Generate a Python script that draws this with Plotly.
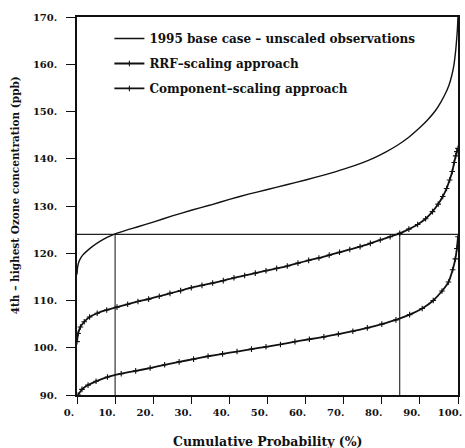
import plotly.graph_objects as go

# Cumulative probability (%) and 4th-highest ozone (ppb) for each case
base_p = [0, 0.15, 0.5, 1, 1.5, 2.5, 4, 6, 8, 10, 13, 16, 20, 25, 30, 35, 40, 45,
          50, 55, 60, 65, 70, 75, 78, 81, 84, 87, 90, 92, 94, 95.5, 96.7, 97.6,
          98.3, 98.9, 99.3, 99.6, 99.85, 100]
base_o3 = [115.5, 117.0, 118.2, 119.0, 119.6, 120.4, 121.4, 122.5, 123.4, 124.1,
           124.9, 125.6, 126.6, 127.9, 129.1, 130.2, 131.4, 132.5, 133.5, 134.5,
           135.5, 136.6, 137.8, 139.2, 140.2, 141.4, 142.8, 144.5, 146.6, 148.2,
           150.1, 152.0, 153.8, 155.5, 157.4, 159.7, 162.2, 164.8, 167.5, 170.0]

rrf_p = [0.0, 0.3, 0.9, 1.9, 3.3, 5.3, 7.8, 10.5, 13.3, 16.0, 18.8, 21.6, 24.4,
         27.2, 30.0, 32.8, 35.6, 38.4, 41.2, 44.0, 46.8, 49.6, 52.4, 55.2, 58.0,
         60.8, 63.5, 66.2, 68.9, 71.6, 74.3, 77.0, 79.6, 82.2, 84.7, 87.1, 89.4,
         91.5, 93.3, 94.8, 96.0, 97.0, 97.8, 98.5, 99.0, 99.4, 99.7, 100]
rrf_o3 = [101.3, 103.0, 104.4, 105.5, 106.5, 107.3, 108.0, 108.6, 109.2, 109.8,
          110.3, 110.9, 111.5, 112.1, 112.7, 113.2, 113.7, 114.2, 114.8, 115.3,
          115.8, 116.3, 116.8, 117.3, 117.9, 118.5, 119.0, 119.6, 120.2, 120.8,
          121.4, 122.1, 122.8, 123.5, 124.2, 125.1, 126.1, 127.3, 128.8, 130.4,
          132.0, 133.7, 135.5, 137.3, 139.2, 140.6, 141.5, 142.2]

comp_p = [0.3, 1.3, 2.9, 5.0, 8.0, 11.6, 15.4, 19.2, 23.0, 26.8, 30.6, 34.4,
          38.2, 42.0, 45.8, 49.6, 53.4, 57.2, 61.0, 64.8, 68.6, 72.4, 76.2, 80.0,
          83.7, 87.3, 90.6, 93.5, 95.8, 97.5, 98.6, 99.3, 99.7, 100]
comp_o3 = [90.0, 91.2, 92.1, 92.9, 93.8, 94.5, 95.1, 95.7, 96.4, 97.0, 97.6, 98.2,
           98.7, 99.2, 99.7, 100.2, 100.7, 101.3, 101.8, 102.3, 102.9, 103.5,
           104.2, 105.0, 105.9, 107.0, 108.3, 110.0, 112.0, 113.9, 116.5, 118.8,
           121.0, 123.5]

# Attainment threshold and the probabilities where curves reach it
threshold = 124
cross_p = [10, 84.7]

x_ticks = [0, 10, 20, 30, 40, 50, 60, 70, 80, 90, 100]
x_labels = ["0.", "10.", "20.", "30.", "40.", "50.", "60.", "70.", "80.", "90.", "100."]
y_ticks = [90, 100, 110, 120, 130, 140, 150, 160, 170]
y_labels = ["90.", "100.", "110.", "120.", "130.", "140.", "150.", "160.", "170."]

FONT = "DejaVu Serif"
INK = "#111111"

fig = go.Figure()

# Reference lines at the threshold
fig.add_trace(go.Scatter(x=[0, 100], y=[threshold, threshold], mode="lines",
                         line=dict(color="#222222", width=1.1), showlegend=False,
                         hoverinfo="skip"))
for p in cross_p:
    fig.add_trace(go.Scatter(x=[p, p], y=[90, threshold], mode="lines",
                             line=dict(color="#222222", width=1.1), showlegend=False,
                             hoverinfo="skip"))

fig.add_trace(go.Scatter(
    x=base_p, y=base_o3, mode="lines", name="1995 base case \u2013 unscaled observations",
    line=dict(color=INK, width=1.4, shape="spline", smoothing=0.5), legend="legend"))
fig.add_trace(go.Scatter(
    x=rrf_p, y=rrf_o3, mode="lines+markers", name="RRF\u2013scaling approach",
    line=dict(color=INK, width=1.8, shape="spline", smoothing=0.5),
    marker=dict(symbol="cross-thin", size=4, line=dict(color=INK, width=1.1)),
    legend="legend2"))
fig.add_trace(go.Scatter(
    x=comp_p, y=comp_o3, mode="lines+markers", name="Component\u2013scaling approach",
    line=dict(color=INK, width=1.8, shape="spline", smoothing=0.5),
    marker=dict(symbol="cross-thin", size=4, line=dict(color=INK, width=1.1)),
    legend="legend3"))

leg_common = dict(x=0.085, xanchor="left", yanchor="middle", bgcolor="rgba(0,0,0,0)",
                  borderwidth=0, itemwidth=30,
                  font=dict(family=FONT, size=12, color=INK, weight="bold"))

fig.update_layout(
    width=465, height=448,
    margin=dict(l=77, r=3, t=17, b=53),
    paper_bgcolor="white", plot_bgcolor="white",
    font=dict(family=FONT, size=10, color=INK, weight="bold"),
    legend=dict(y=0.943, **leg_common),
    legend2=dict(y=0.877, **leg_common),
    legend3=dict(y=0.811, **leg_common),
    xaxis=dict(range=[0, 100], tickvals=x_ticks, ticktext=x_labels,
               showgrid=False, zeroline=False, showline=True, linecolor=INK,
               linewidth=1.5, mirror=True, ticks="outside", ticklen=7,
               tickwidth=1.3, tickcolor=INK, ticklabelshift=-8,
               ticklabeloverflow="allow",
               tickfont=dict(family=FONT, size=10, color=INK, weight="bold")),
    yaxis=dict(range=[90, 170], tickvals=y_ticks, ticktext=y_labels,
               showgrid=False, zeroline=False, showline=True, linecolor=INK,
               linewidth=1.5, mirror=True, ticks="outside", ticklen=9,
               tickwidth=1.3, tickcolor=INK, ticklabelstandoff=7,
               tickfont=dict(family=FONT, size=10, color=INK, weight="bold")),
    annotations=[
        dict(text="Cumulative Probability (%)", xref="paper", yref="paper",
             x=0.5, y=-0.1234, xanchor="center", yanchor="middle", showarrow=False,
             font=dict(family=FONT, size=12.5, color=INK, weight="bold")),
        dict(text="4th \u2013 highest Ozone concentration (ppb)", xref="paper",
             yref="paper", x=-0.162, y=0.529, xanchor="center", yanchor="middle",
             textangle=-90, showarrow=False,
             font=dict(family=FONT, size=10.5, color=INK, weight="bold")),
    ],
)

fig.write_html("out.html")
